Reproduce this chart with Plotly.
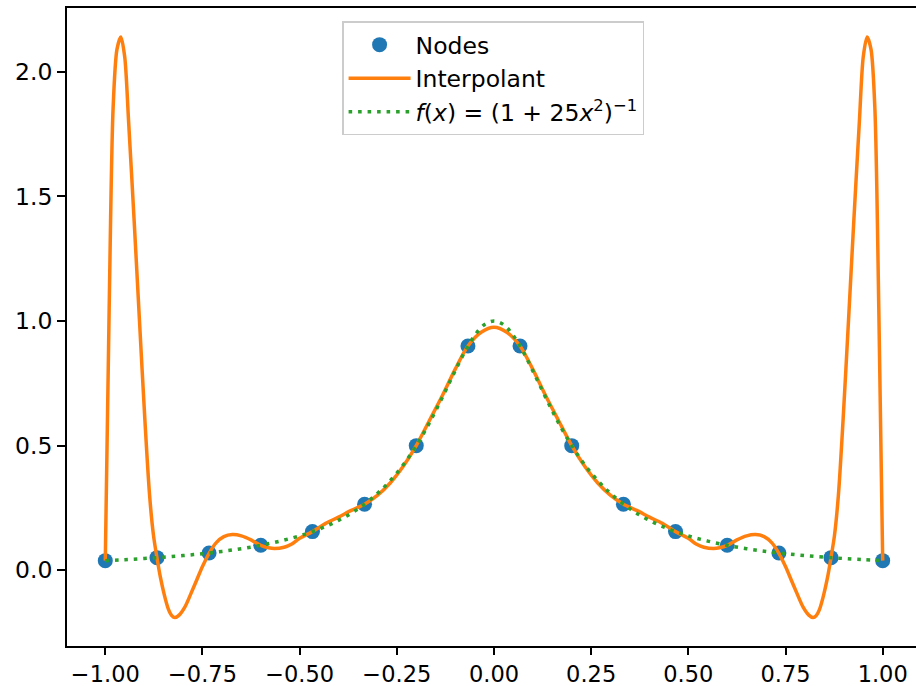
import plotly.graph_objects as go

# ---- data ----
node_x = [-1.0, -0.867, -0.733, -0.6, -0.467, -0.333, -0.2, -0.067,
          0.067, 0.2, 0.333, 0.467, 0.6, 0.733, 0.867, 1.0]
node_y = [0.0385, 0.0505, 0.069, 0.100, 0.155, 0.265, 0.500, 0.900,
          0.900, 0.500, 0.265, 0.155, 0.100, 0.069, 0.0505, 0.0385]

# interpolant, left half (curve is symmetric about x = 0)
interp_x_left = [-1.0, -0.99, -0.98, -0.97, -0.96, -0.95, -0.94, -0.926, -0.912,
                 -0.898, -0.886, -0.876, -0.867, -0.858, -0.848, -0.838, -0.829,
                 -0.821, -0.81, -0.795, -0.78, -0.765, -0.75, -0.733, -0.715,
                 -0.695, -0.673, -0.65, -0.625, -0.6, -0.58, -0.565, -0.54, -0.52,
                 -0.5, -0.467, -0.433, -0.4, -0.367, -0.333, -0.3, -0.267, -0.233,
                 -0.2, -0.167, -0.133, -0.1, -0.067, -0.033, 0.0]
interp_y_left = [0.0385, 1.05, 1.85, 2.09, 2.14, 2.06, 1.80, 1.41, 1.00,
                 0.60, 0.30, 0.14, 0.05, -0.03, -0.10, -0.155, -0.182,
                 -0.19, -0.18, -0.147, -0.095, -0.04, 0.015, 0.068, 0.11,
                 0.135, 0.143, 0.138, 0.122, 0.100, 0.090, 0.087, 0.092, 0.105,
                 0.128, 0.155, 0.188, 0.213, 0.240, 0.265, 0.300, 0.350, 0.418,
                 0.500, 0.598, 0.700, 0.806, 0.900, 0.955, 0.975]

# f(x) = 1/(1+25x^2), left half
f_x_left = [-1.0, -0.95, -0.9, -0.85, -0.8, -0.75, -0.7, -0.65, -0.6, -0.55,
            -0.5, -0.45, -0.4, -0.35, -0.3, -0.275, -0.25, -0.225, -0.2,
            -0.175, -0.15, -0.125, -0.1, -0.075, -0.05, -0.025, 0.0]
f_y_left = [0.0385, 0.0424, 0.0471, 0.0525, 0.0588, 0.0664, 0.0755, 0.0865,
            0.100, 0.117, 0.138, 0.165, 0.200, 0.246, 0.308, 0.346, 0.390,
            0.441, 0.500, 0.566, 0.640, 0.719, 0.800, 0.877, 0.941, 0.985, 1.0]

x_tick_vals = [-1.0, -0.75, -0.5, -0.25, 0.0, 0.25, 0.5, 0.75, 1.0]
x_tick_text = ["\u22121.00", "\u22120.75", "\u22120.50", "\u22120.25", "0.00",
               "0.25", "0.50", "0.75", "1.00"]
y_tick_vals = [0.0, 0.5, 1.0, 1.5, 2.0]
y_tick_text = ["0.0", "0.5", "1.0", "1.5", "2.0"]

# mirror the symmetric halves
interp_x = interp_x_left + [-v for v in reversed(interp_x_left[:-1])]
interp_y = interp_y_left + list(reversed(interp_y_left[:-1]))
f_x = f_x_left + [-v for v in reversed(f_x_left[:-1])]
f_y = f_y_left + list(reversed(f_y_left[:-1]))

FONT = "DejaVu Sans"
FS = 23.5
TFS = 22.5

fig = go.Figure()
fig.add_trace(go.Scatter(
    x=node_x, y=node_y, mode="markers", name="Nodes", legendgroup="a",
    marker=dict(color="#1f77b4", size=15, line=dict(width=0)),
))
fig.add_trace(go.Scatter(
    x=interp_x, y=interp_y, mode="lines", name="Interpolant", legendgroup="b",
    line=dict(color="#ff7f0e", width=3.5, shape="spline", smoothing=0.8),
))
fig.add_trace(go.Scatter(
    x=f_x, y=f_y, mode="lines", legendgroup="c",
    name="<i>f</i>(<i>x</i>) = (1 + 25<i>x</i><sup>2</sup>)<sup>\u22121</sup>",
    line=dict(color="#2ca02c", width=3.5, dash="3.6px,5.9px", shape="spline", smoothing=1),
))

fig.update_layout(
    width=916, height=686,
    margin=dict(l=67, r=0, t=8, b=40, autoexpand=False),
    paper_bgcolor="white", plot_bgcolor="white",
    font=dict(family=FONT, size=FS, color="#000000"),
    showlegend=True,
    legend=dict(
        x=0.324, y=0.979, xanchor="left", yanchor="top",
        bgcolor="rgba(255,255,255,0.8)", bordercolor="#cccccc", borderwidth=1.5,
        font=dict(family=FONT, size=FS, color="#000000"),
        traceorder="grouped", tracegroupgap=0, itemwidth=62,
    ),
    xaxis=dict(
        range=[-1.0985, 1.0857], showgrid=False, zeroline=False,
        showline=True, linecolor="#000000", linewidth=1.9, mirror=True,
        ticks="outside", ticklen=7, tickwidth=1.9, tickcolor="#000000",
        tickvals=x_tick_vals, ticktext=x_tick_text,
        tickfont=dict(family=FONT, size=TFS, color="#000000"),
    ),
    yaxis=dict(
        range=[-0.304, 2.256], showgrid=False, zeroline=False,
        showline=True, linecolor="#000000", linewidth=1.9, mirror=False,
        ticks="outside", ticklen=8, tickwidth=1.9, tickcolor="#000000",
        tickvals=y_tick_vals, ticktext=y_tick_text,
        tickfont=dict(family=FONT, size=FS, color="#000000"),
    ),
)

fig.write_html(
    "out.html",
    config={"displayModeBar": False},
    post_script="document.body.style.margin='0';document.body.style.overflow='hidden';",
)
